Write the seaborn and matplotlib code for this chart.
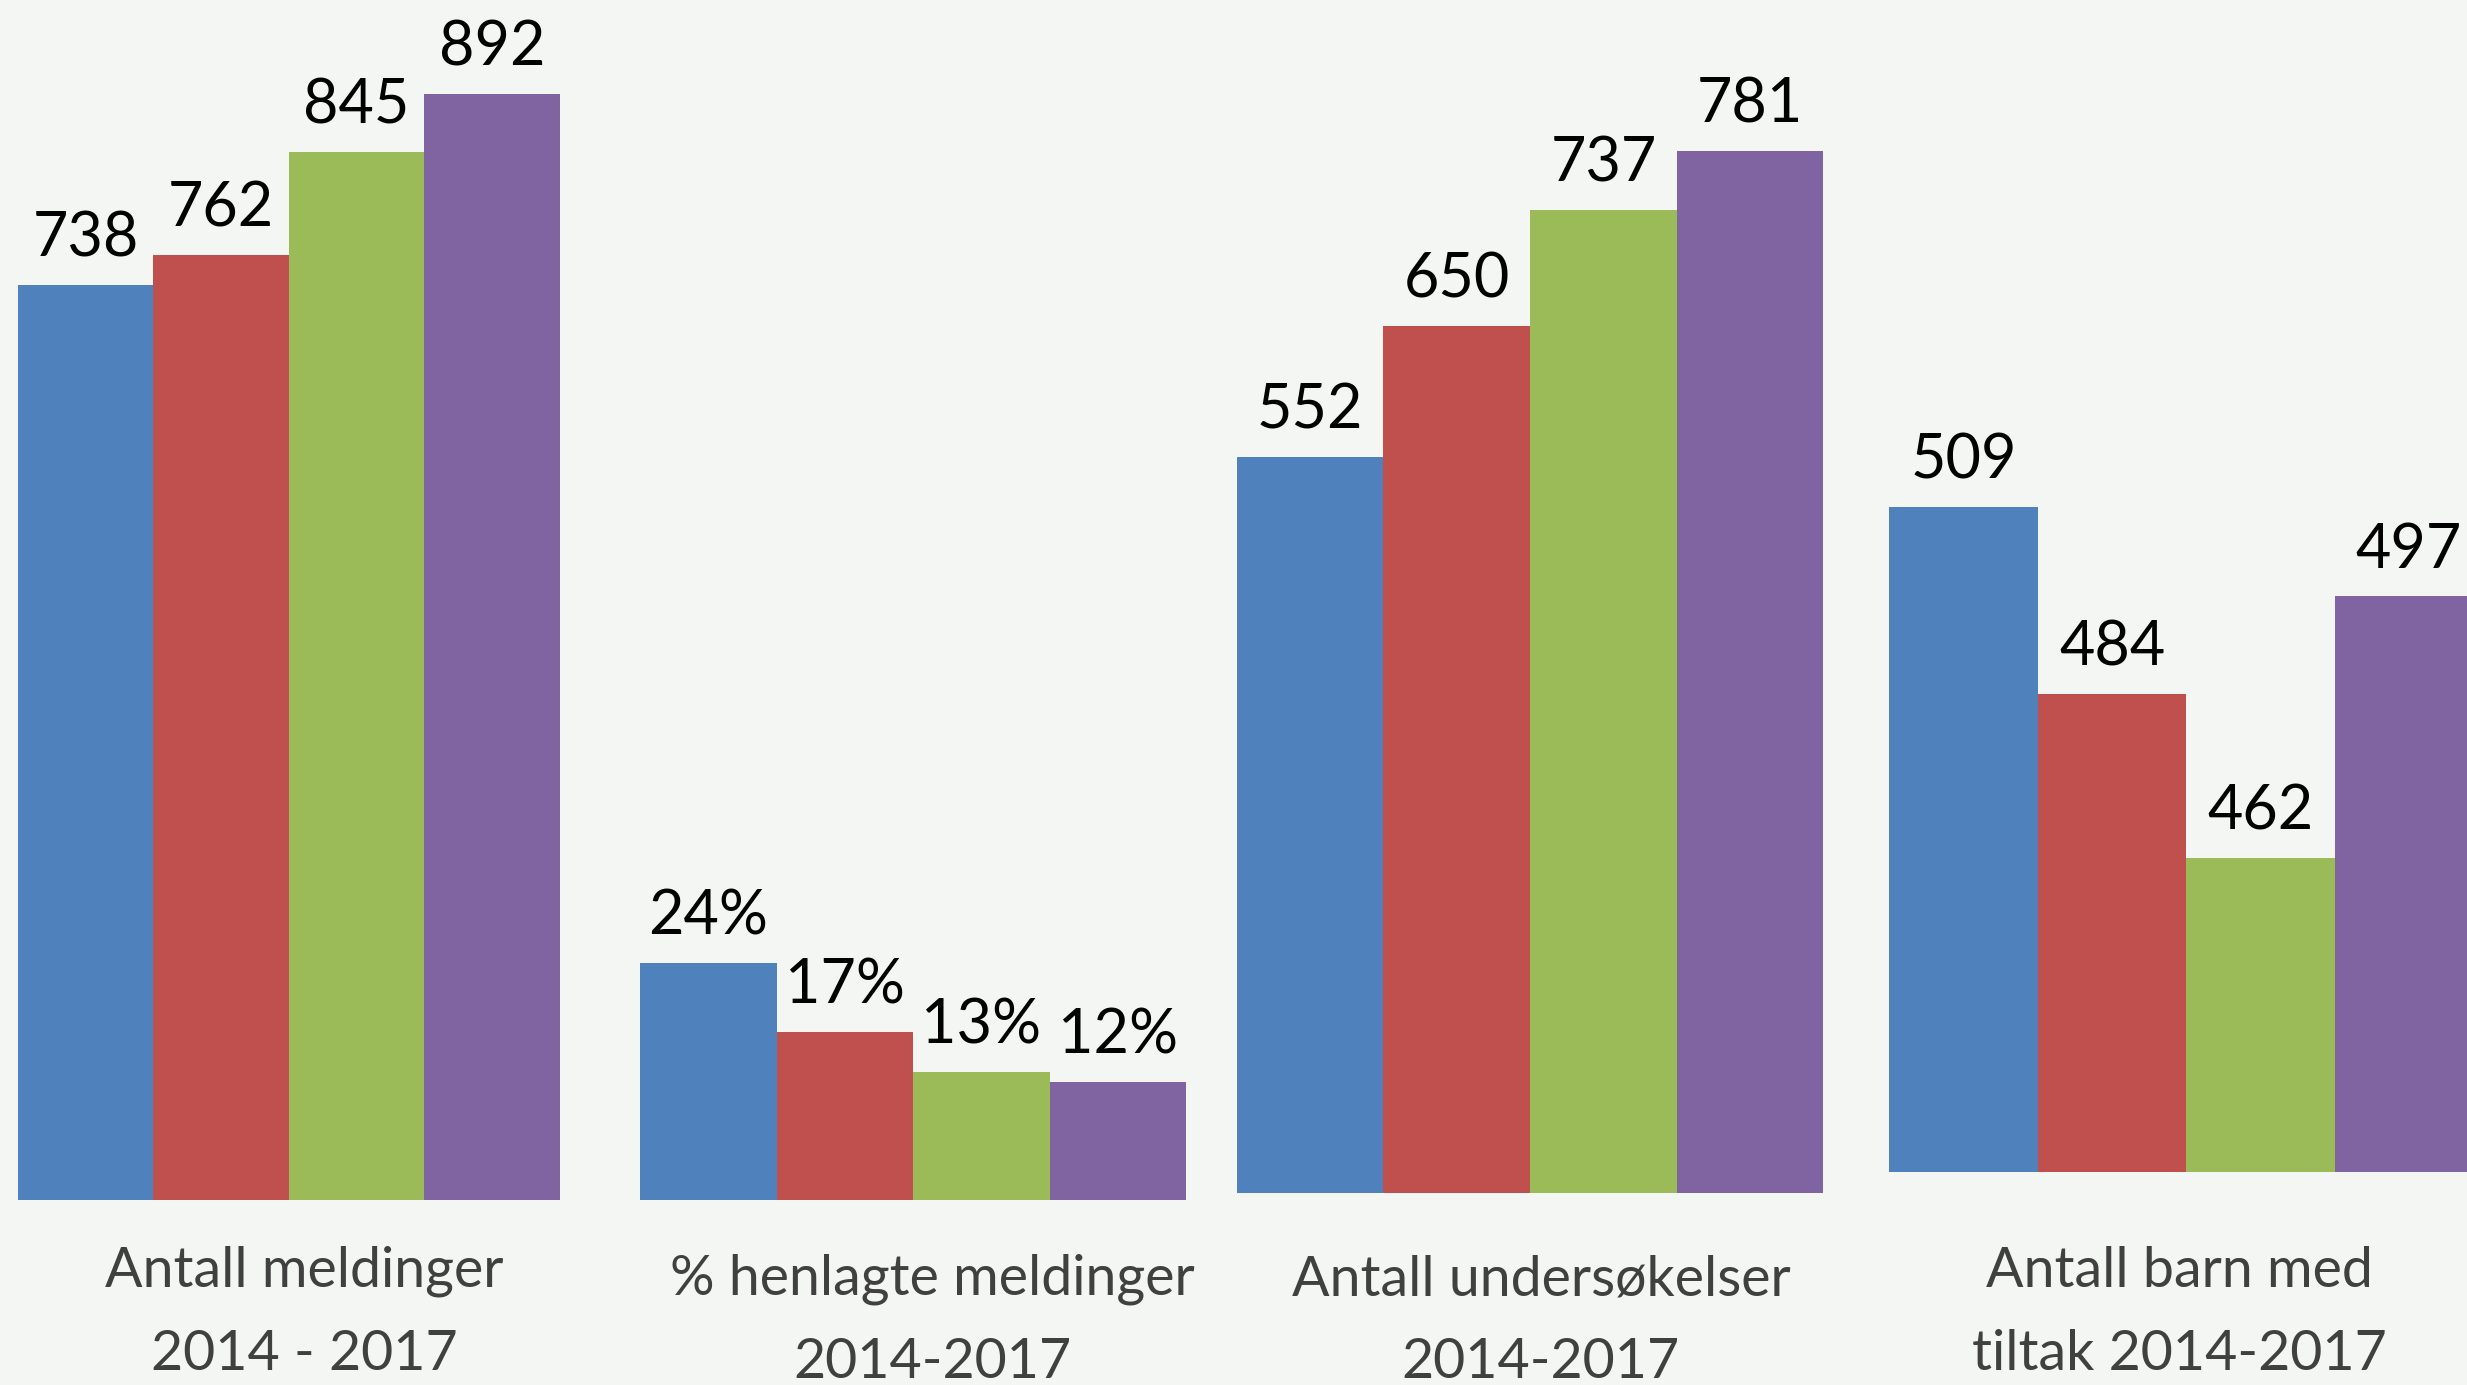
import matplotlib
matplotlib.use("Agg")
import matplotlib.pyplot as plt
import seaborn as sns
import pandas as pd

# ---------------- data ----------------
years = ["2014", "2015", "2016", "2017"]
meldinger = [738, 762, 845, 892]
henlagte_pct = [24, 17, 13, 12]
undersokelser = [552, 650, 737, 781]
barn_tiltak = [509, 484, 462, 497]
categories = [
    "Antall meldinger\n2014 - 2017",
    "% henlagte meldinger\n2014-2017",
    "Antall undersøkelser\n2014-2017",
    "Antall barn med\ntiltak 2014-2017",
]
colors = ["#4F81BD", "#C0504D", "#9BBB59", "#8064A2"]

# ---------------- style ----------------
sns.set_style("white")
FONT = ["Lato", "DejaVu Sans"]
plt.rcParams["font.family"] = FONT
BG = "#F4F6F3"

W, H = 2467, 1385
fig = plt.figure(figsize=(W / 100, H / 100), dpi=100, facecolor=BG)

# panel geometry in pixels: (left, right, baseline, px per unit, axis minimum)
panels = [
    (18, 559.5, 1200.0, 1.240, 0),
    (640, 1186, 1200.0, 9.87, 0),
    (1236.5, 1823.5, 1193.0, 1.334, 0),
    (1889.5, 2483, 1172.3, 7.48, 420),
]
series = [meldinger, henlagte_pct, undersokelser, barn_tiltak]
fmts = ["{}", "{}%", "{}", "{}"]
label_centers = [304, 932, 1541, 2179]
label_baselines = [1370, 1378, 1378, 1370]  # baseline of last line

for (x0, x1, base, scale, lo), vals, fmt in zip(panels, series, fmts):
    ax = fig.add_axes([x0 / W, (H - base) / H, (x1 - x0) / W, base / H])
    ax.set_facecolor("none")
    df = pd.DataFrame({"year": years, "value": vals})
    sns.barplot(data=df, x="year", y="value", hue="year", palette=colors,
                width=1.0, saturation=1, legend=False, linewidth=0, ax=ax)
    ax.set_xlim(-0.5, 3.5)
    ax.set_ylim(lo, lo + base / scale)
    ax.axis("off")
    for p, v in zip(ax.patches, vals):
        ax.annotate(fmt.format(v), xy=(p.get_x() + p.get_width() / 2, p.get_height()),
                    xytext=(0, 20.5), textcoords="offset points",
                    ha="center", va="baseline", fontsize=44, color="black",
                    family=FONT)

for cat, cx, by in zip(categories, label_centers, label_baselines):
    fig.text(cx / W, (H - by) / H, cat, ha="center", va="baseline",
             fontsize=40, color="#404040", linespacing=1.77, family=FONT)

fig.savefig("out.png", dpi=100, facecolor=BG)
